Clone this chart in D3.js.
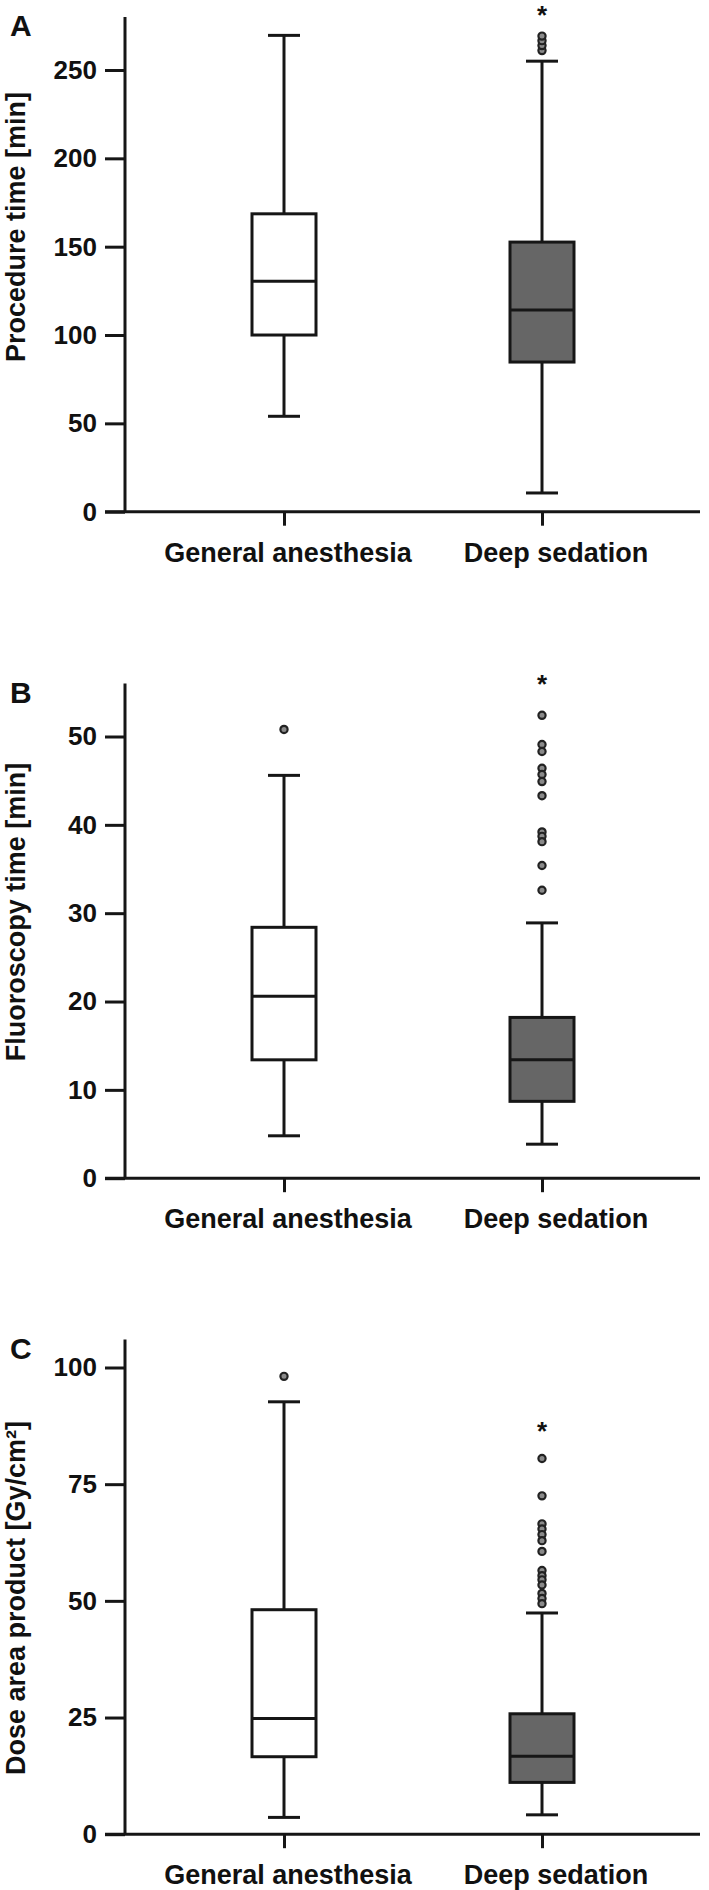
<!DOCTYPE html>
<html>
<head>
<meta charset="utf-8">
<script src="https://cdn.jsdelivr.net/npm/d3@7"></script>
<style>
  html, body { margin: 0; padding: 0; background: #fff; }
  svg { display: block; }
  text { font-family: "Liberation Sans", Arial, sans-serif; font-weight: bold; fill: #111; }
</style>
</head>
<body>
<svg id="chart" width="709" height="1890"></svg>
<script>
// ---------------- data ----------------
const categories = ["General anesthesia", "Deep sedation"];
const panelLetters = ["A", "B", "C"];
const axisTitles = ["Procedure time [min]", "Fluoroscopy time [min]", "Dose area product [Gy/cm\u00B2]"];
const yMaxValues = [280, 56, 106];
const yTickValues = [
  [0, 50, 100, 150, 200, 250],
  [0, 10, 20, 30, 40, 50],
  [0, 25, 50, 75, 100]
];
// box stats per group: [min whisker, Q1, median, Q3, max whisker]
const procedureStats = [[54, 100, 130.4, 168.6, 269.6], [10.6, 84.7, 114.2, 152.6, 255]];
const procedureOutliers = [[], [261, 263.8, 266.6, 269.2]];
const fluoroscopyStats = [[4.8, 13.4, 20.6, 28.4, 45.6], [3.85, 8.7, 13.4, 18.2, 28.9]];
const fluoroscopyOutliers = [[50.8], [52.4, 49.1, 48.3, 46.4, 45.7, 44.9, 43.3, 39.2, 38.7, 38.1, 35.4, 32.6]];
const doseStats = [[3.6, 16.6, 24.8, 48.1, 92.65], [4.15, 11.1, 16.7, 25.8, 47.4]];
const doseOutliers = [[98.1], [80.5, 72.5, 66.5, 65.4, 64.2, 62.9, 60.6, 56.5, 55.4, 54.5, 53.4, 51.6, 50.5, 49.4]];
// significance asterisk position (value on the y scale) for Deep sedation
const significanceValues = [284.3, 56.6, 87.7];

const panelStats = [procedureStats, fluoroscopyStats, doseStats];
const panelOutliers = [procedureOutliers, fluoroscopyOutliers, doseOutliers];

// ---------------- layout ----------------
const svg = d3.select("#chart");
const axisX = 125, axisRight = 700, tickLen = 20;
const plotTops = [17, 683.5, 1339.5];
const plotHeight = 494.7;
const titleCenters = [227, 912, 1598];
const boxW = 64, capW = 32;
const groupFills = ["#ffffff", "#666666"];
const stroke = "#161616";
const labelDx = [4, 14];

const x = d3.scalePoint().domain(categories).range([284, 542]);

panelLetters.forEach((letter, p) => {
  const top = plotTops[p];
  const bottom = top + plotHeight;
  const y = d3.scaleLinear().domain([0, yMaxValues[p]]).range([bottom, top]);
  const g = svg.append("g");

  // panel letter
  g.append("text").attr("x", 10).attr("y", top + 19)
    .attr("font-size", 30).text(letter);

  // y axis
  const yAxis = d3.axisLeft(y).tickValues(yTickValues[p]).tickSize(tickLen).tickPadding(8).tickFormat(d3.format("d"));
  const ya = g.append("g").attr("transform", `translate(${axisX},0)`).call(yAxis);
  ya.select(".domain").attr("stroke", stroke).attr("stroke-width", 3)
    .attr("d", `M0,${top}V${bottom}`);
  ya.selectAll(".tick line").attr("stroke", stroke).attr("stroke-width", 3);
  ya.selectAll(".tick text").attr("font-size", 26).attr("font-family", "Liberation Sans, Arial, sans-serif")
    .attr("font-weight", "bold").attr("fill", "#111");

  // x axis
  const xAxis = d3.axisBottom(x).tickSize(14).tickFormat("");
  const xa = g.append("g").attr("transform", `translate(0,${bottom})`).call(xAxis);
  xa.select(".domain").attr("stroke", stroke).attr("stroke-width", 3)
    .attr("d", `M${axisX - tickLen},0H${axisRight}`);
  xa.selectAll(".tick line").attr("stroke", stroke).attr("stroke-width", 3);

  // category labels
  g.selectAll(".cat").data(categories).enter().append("text")
    .attr("x", (d, i) => x(d) + labelDx[i]).attr("y", bottom + 50)
    .attr("text-anchor", "middle").attr("font-size", 27).text(d => d);

  // axis title
  g.append("text")
    .attr("transform", `translate(25,${titleCenters[p]}) rotate(-90)`)
    .attr("text-anchor", "middle").attr("font-size", 27)
    .text(axisTitles[p]);

  // boxes
  categories.forEach((cat, i) => {
    const s = panelStats[p][i];
    const cx = x(cat);
    // whiskers
    g.append("line").attr("x1", cx).attr("x2", cx).attr("y1", y(s[3])).attr("y2", y(s[4]))
      .attr("stroke", stroke).attr("stroke-width", 3);
    g.append("line").attr("x1", cx).attr("x2", cx).attr("y1", y(s[1])).attr("y2", y(s[0]))
      .attr("stroke", stroke).attr("stroke-width", 3);
    [s[0], s[4]].forEach(v => {
      g.append("line").attr("x1", cx - capW / 2).attr("x2", cx + capW / 2).attr("y1", y(v)).attr("y2", y(v))
        .attr("stroke", stroke).attr("stroke-width", 3);
    });
    // box
    g.append("rect").attr("x", cx - boxW / 2).attr("width", boxW)
      .attr("y", y(s[3])).attr("height", y(s[1]) - y(s[3]))
      .attr("fill", groupFills[i]).attr("stroke", stroke).attr("stroke-width", 3);
    // median
    g.append("line").attr("x1", cx - boxW / 2).attr("x2", cx + boxW / 2).attr("y1", y(s[2])).attr("y2", y(s[2]))
      .attr("stroke", stroke).attr("stroke-width", 3);
    // outliers
    g.selectAll(null).data(panelOutliers[p][i]).enter().append("circle")
      .attr("cx", cx).attr("cy", d => y(d)).attr("r", 3.6)
      .attr("fill", "#8a8a8a").attr("stroke", "#222").attr("stroke-width", 2.2);
  });

  // significance asterisk
  g.append("text").attr("x", x(categories[1])).attr("y", y(significanceValues[p]) + 15)
    .attr("text-anchor", "middle").attr("font-size", 26).text("*");
});
</script>
</body>
</html>
